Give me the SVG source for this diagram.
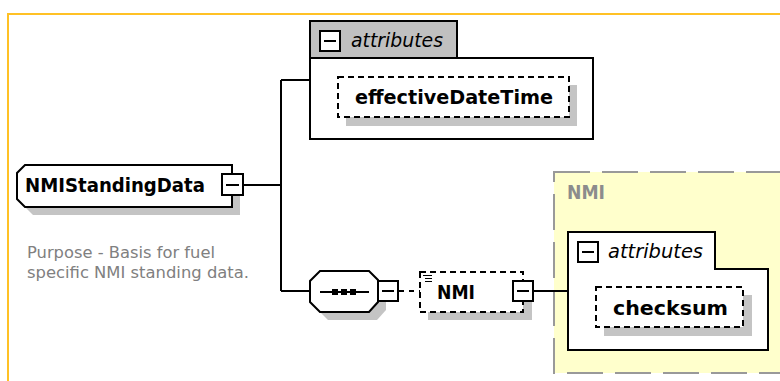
<svg xmlns="http://www.w3.org/2000/svg" width="780" height="381" viewBox="0 0 780 381">
<style>
.box{fill:#fff;stroke:#000;stroke-width:2}
.dash{fill:#fff;stroke:#000;stroke-width:2;stroke-dasharray:6 4}
.shadow{fill:#c4c4c4}
.tab{fill:#c0c0c0;stroke:#000;stroke-width:2}
.line{fill:none;stroke:#000;stroke-width:2}
.bold{font-family:"DejaVu Sans",Verdana,sans-serif;font-weight:bold;font-size:20px;fill:#000}
.ital{font-family:"DejaVu Sans",Verdana,sans-serif;font-style:italic;font-size:19px;fill:#000}
.desc{font-family:"DejaVu Sans",Verdana,sans-serif;font-size:15.5px;fill:#808080}
</style>
<rect width="780" height="381" fill="#fff"/>
<rect id="frame" x="8" y="14" width="820" height="420" fill="none" stroke="#FFC125" stroke-width="2"/>

<g id="NMI-type">
<rect x="554" y="172" width="260" height="201" fill="#FFFFCC" stroke="#999" stroke-width="2" stroke-dasharray="36 12"/>
<text x="567" y="199" class="bold" style="fill:#8c8c8c" textLength="38" lengthAdjust="spacingAndGlyphs">NMI</text>
</g>

<g id="connectors">
<path class="line" d="M243 185H281M281 80V291M281 80H310M281 291H310"/>
<path class="line" d="M533 291H568"/>
<path class="line" d="M399 291H420" stroke-dasharray="5 5"/>
</g>

<g id="NMIStandingData">
<polygon class="shadow" points="33,173 240,173 240,215 33,215 25,207 25,181"/>
<polygon class="box" points="25,165 232,165 232,207 25,207 17,199 17,173"/>
<text x="25" y="192" class="bold" textLength="180" lengthAdjust="spacingAndGlyphs">NMIStandingData</text>
<rect class="box" x="222" y="174" width="21" height="21"/>
<path class="line" d="M226 185H239"/>
</g>

<g id="description">
<text x="27" y="258" class="desc" textLength="188" lengthAdjust="spacingAndGlyphs">Purpose - Basis for fuel</text>
<text x="27" y="278" class="desc" textLength="222" lengthAdjust="spacingAndGlyphs">specific NMI standing data.</text>
</g>

<g id="attributes-1">
<path class="box" d="M310 21H457V58H593V139H310Z"/>
<rect class="tab" x="310" y="21" width="147" height="37"/>
<rect class="box" x="320" y="31" width="20" height="20"/>
<path class="line" d="M324 41H336"/>
<text x="351" y="47" class="ital" textLength="92" lengthAdjust="spacingAndGlyphs">attributes</text>
</g>

<g id="effectiveDateTime">
<rect class="shadow" x="346" y="85" width="231" height="41"/>
<rect class="dash" x="338" y="77" width="231" height="40"/>
<text x="355" y="104" class="bold" textLength="198" lengthAdjust="spacingAndGlyphs">effectiveDateTime</text>
</g>

<g id="sequence">
<polygon class="shadow" points="328,279 377,279 386,288 386,310 377,320 328,320 318,310 318,289"/>
<polygon class="box" points="320,271 369,271 378,280 378,302 369,312 320,312 310,302 310,281"/>
<path class="line" d="M320 292H369"/>
<rect x="332" y="289" width="6" height="6" fill="#000"/>
<rect x="341" y="289" width="6" height="6" fill="#000"/>
<rect x="350" y="289" width="6" height="6" fill="#000"/>
<rect class="box" x="378" y="281" width="20" height="20"/>
<path class="line" d="M382 291H394"/>
</g>

<g id="NMI">
<rect class="shadow" x="428" y="280" width="104" height="40"/>
<rect class="dash" x="420" y="272" width="103" height="40"/>
<path d="M423 275.5H432M425 278.5H432M425 281.5H432" stroke="#000" stroke-width="1" fill="none"/>
<text x="437" y="299" class="bold" textLength="38" lengthAdjust="spacingAndGlyphs">NMI</text>
<rect class="box" x="513" y="281" width="20" height="20"/>
<path class="line" d="M517 291H529"/>
</g>

<g id="attributes-2">
<path class="box" d="M568 232H715V269H768V350H568Z"/>
<rect class="box" x="578" y="242" width="20" height="20"/>
<path class="line" d="M582 252H594"/>
<text x="608" y="258" class="ital" textLength="95" lengthAdjust="spacingAndGlyphs">attributes</text>
</g>

<g id="checksum">
<rect class="shadow" x="604" y="295" width="148" height="41"/>
<rect class="dash" x="596" y="287" width="147" height="40"/>
<text x="613" y="315" class="bold" textLength="115" lengthAdjust="spacingAndGlyphs">checksum</text>
</g>
</svg>
